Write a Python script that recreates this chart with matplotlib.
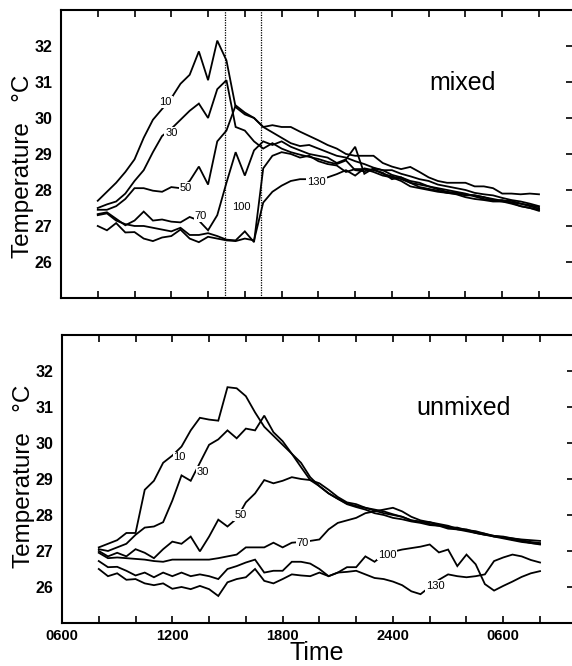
import numpy as np
import matplotlib
matplotlib.use("Agg")
import matplotlib.pyplot as plt

plt.rcParams['font.family'] = ['Liberation Sans', 'DejaVu Sans']

# half-hourly samples, 0800 day 1 to 0800 day 2 (hours since midnight)
hours = np.arange(8, 32.01, 0.5)

depths = ['10', '30', '50', '70', '100', '130']

mixed_10 = [27.70, 27.95, 28.20, 28.50, 28.85, 29.45, 29.95, 30.25, 30.55, 30.95,
            31.20, 31.85, 31.05, 32.15, 31.60, 30.30, 30.10, 30.00, 29.75, 29.80,
            29.75, 29.75, 29.62, 29.50, 29.38, 29.25, 29.15, 29.00, 28.95, 28.95,
            28.95, 28.75, 28.65, 28.58, 28.64, 28.50, 28.35, 28.25, 28.20, 28.20,
            28.20, 28.10, 28.10, 28.05, 27.90, 27.90, 27.88, 27.90, 27.88]
mixed_30 = [27.50, 27.60, 27.68, 27.90, 28.25, 28.55, 29.05, 29.50, 29.70, 29.95,
            30.20, 30.40, 30.00, 30.80, 31.05, 29.75, 29.65, 29.35, 29.15, 29.30,
            29.15, 29.05, 28.98, 28.92, 28.86, 28.78, 28.72, 28.82, 28.55, 28.52,
            28.58, 28.45, 28.38, 28.30, 28.20, 28.08, 28.03, 27.98, 27.92, 27.90,
            27.85, 27.85, 27.80, 27.72, 27.68, 27.66, 27.62, 27.55, 27.48]
mixed_50 = [27.45, 27.45, 27.55, 27.75, 28.05, 28.05, 27.98, 27.95, 28.08, 28.05,
            28.25, 28.65, 28.15, 29.35, 29.65, 30.35, 30.15, 30.00, 29.75, 29.60,
            29.45, 29.30, 29.22, 29.25, 29.15, 29.05, 28.95, 28.90, 28.80, 28.72,
            28.62, 28.55, 28.55, 28.45, 28.38, 28.30, 28.25, 28.15, 28.10, 28.05,
            28.00, 27.92, 27.88, 27.85, 27.78, 27.72, 27.68, 27.62, 27.55]
mixed_70 = [27.33, 27.38, 27.20, 27.02, 27.15, 27.40, 27.15, 27.18, 27.12, 27.10,
            27.25, 27.15, 26.88, 27.30, 28.20, 29.05, 28.40, 29.10, 29.35, 29.25,
            29.35, 29.20, 29.10, 29.00, 28.95, 28.90, 28.75, 28.85, 29.20, 28.45,
            28.60, 28.55, 28.42, 28.35, 28.25, 28.20, 28.10, 28.05, 28.00, 27.95,
            27.90, 27.82, 27.75, 27.70, 27.72, 27.65, 27.55, 27.50, 27.45]
mixed_100 = [27.30, 27.35, 27.15, 27.05, 27.00, 27.00, 26.95, 26.90, 26.85, 26.95,
             26.75, 26.75, 26.80, 26.72, 26.62, 26.60, 26.85, 26.55, 28.60, 28.95,
             29.05, 29.00, 28.90, 28.95, 28.80, 28.72, 28.68, 28.50, 28.58, 28.58,
             28.50, 28.40, 28.35, 28.25, 28.10, 28.05, 28.00, 27.95, 27.92, 27.88,
             27.80, 27.75, 27.72, 27.68, 27.68, 27.62, 27.55, 27.50, 27.42]
mixed_130 = [27.00, 26.88, 27.08, 26.82, 26.83, 26.65, 26.58, 26.68, 26.72, 26.90,
             26.65, 26.55, 26.70, 26.65, 26.60, 26.58, 26.65, 26.60, 27.65, 27.95,
             28.12, 28.25, 28.30, 28.30, 28.30, 28.35, 28.44, 28.55, 28.40, 28.60,
             28.55, 28.48, 28.30, 28.35, 28.20, 28.15, 28.10, 28.02, 27.95, 27.92,
             27.88, 27.85, 27.80, 27.75, 27.70, 27.70, 27.62, 27.58, 27.52]

unmixed_10 = [27.10, 27.20, 27.30, 27.50, 27.50, 28.70, 28.95, 29.45, 29.65, 29.90,
              30.35, 30.70, 30.65, 30.62, 31.55, 31.52, 31.30, 30.85, 30.45, 30.20,
              29.95, 29.70, 29.45, 29.05, 28.80, 28.60, 28.45, 28.32, 28.25, 28.20,
              28.12, 28.05, 28.00, 27.95, 27.85, 27.80, 27.80, 27.72, 27.65, 27.65,
              27.58, 27.55, 27.48, 27.40, 27.38, 27.35, 27.32, 27.30, 27.28]
unmixed_30 = [27.05, 27.00, 27.10, 27.20, 27.45, 27.65, 27.68, 27.80, 28.40, 29.10,
              28.95, 29.45, 29.95, 30.10, 30.35, 30.13, 30.40, 30.35, 30.76, 30.30,
              30.05, 29.70, 29.33, 28.97, 28.80, 28.60, 28.45, 28.30, 28.22, 28.15,
              28.05, 28.00, 27.92, 27.88, 27.82, 27.78, 27.72, 27.70, 27.62, 27.60,
              27.55, 27.50, 27.45, 27.40, 27.35, 27.30, 27.25, 27.22, 27.20]
unmixed_50 = [27.00, 26.85, 26.95, 26.85, 27.05, 26.95, 26.80, 27.05, 27.26, 27.20,
              27.40, 26.99, 27.40, 27.87, 27.68, 27.90, 28.35, 28.60, 28.97, 28.88,
              28.95, 29.05, 29.00, 28.97, 28.88, 28.70, 28.50, 28.35, 28.30, 28.20,
              28.15, 28.10, 28.02, 27.95, 27.85, 27.82, 27.75, 27.70, 27.68, 27.60,
              27.58, 27.50, 27.45, 27.42, 27.38, 27.32, 27.28, 27.22, 27.18]
unmixed_70 = [26.95, 26.80, 26.82, 26.80, 26.78, 26.76, 26.72, 26.70, 26.76, 26.76,
              26.76, 26.76, 26.76, 26.80, 26.85, 26.90, 27.10, 27.10, 27.10, 27.23,
              27.10, 27.23, 27.25, 27.28, 27.32, 27.60, 27.78, 27.85, 27.92, 28.05,
              28.10, 28.15, 28.20, 28.10, 27.95, 27.85, 27.80, 27.75, 27.70, 27.62,
              27.60, 27.52, 27.48, 27.42, 27.40, 27.35, 27.30, 27.25, 27.22]
unmixed_100 = [26.72, 26.55, 26.56, 26.45, 26.32, 26.40, 26.27, 26.40, 26.30, 26.40,
               26.30, 26.35, 26.30, 26.22, 26.50, 26.58, 26.68, 26.76, 26.40, 26.45,
               26.45, 26.70, 26.70, 26.65, 26.50, 26.30, 26.40, 26.55, 26.55, 26.85,
               26.70, 26.90, 26.98, 27.04, 27.08, 27.12, 27.18, 26.96, 27.04, 26.58,
               26.90, 26.63, 26.08, 25.90, 26.03, 26.15, 26.28, 26.38, 26.44]
unmixed_130 = [26.50, 26.30, 26.38, 26.20, 26.22, 26.10, 26.05, 26.10, 25.95, 26.00,
               25.94, 26.03, 25.94, 25.75, 26.13, 26.22, 26.27, 26.50, 26.17, 26.10,
               26.22, 26.35, 26.32, 26.30, 26.40, 26.30, 26.40, 26.42, 26.45, 26.35,
               26.25, 26.22, 26.15, 26.05, 25.88, 25.80, 26.00, 26.20, 26.35, 26.30,
               26.27, 26.30, 26.35, 26.72, 26.82, 26.90, 26.85, 26.75, 26.68]

# depth label positions (hour, temperature)
mixed_lab_h = [11.7, 12.0, 12.8, 13.6, 15.8, 19.9]
mixed_lab_t = [30.45, 29.58, 28.05, 27.28, 27.52, 28.22]
unmixed_lab_h = [12.4, 13.66, 15.7, 19.1, 23.7, 26.3]
unmixed_lab_t = [29.6, 29.19, 28.0, 27.23, 26.9, 26.02]

mixing_times = [14.9, 16.9]

xticks_major = [6, 12, 18, 24, 30]
xtick_labels = ['0600', '1200', '1800', '2400', '0600']
xticks_minor = [8, 10, 14, 16, 20, 22, 26, 28, 32, 34]
yticks = [26, 27, 28, 29, 30, 31, 32]

panels = [
    ('mixed', [mixed_10, mixed_30, mixed_50, mixed_70, mixed_100, mixed_130],
     mixed_lab_h, mixed_lab_t),
    ('unmixed', [unmixed_10, unmixed_30, unmixed_50, unmixed_70, unmixed_100, unmixed_130],
     unmixed_lab_h, unmixed_lab_t),
]

fig = plt.figure(figsize=(5.72, 6.66), dpi=100)
ax_top = fig.add_axes([0.1066, 0.5526, 0.90, 0.4324])
ax_bot = fig.add_axes([0.1084, 0.0646, 0.90, 0.4324])

for ax, (title, series, lab_h, lab_t) in zip([ax_top, ax_bot], panels):
    for s in series:
        ax.plot(hours, s, color='black', lw=1.3, solid_joinstyle='miter')
    for name, h, t in zip(depths, lab_h, lab_t):
        ax.text(h, t, name, fontsize=8, ha='center', va='center', zorder=5,
                bbox=dict(facecolor='white', edgecolor='none', pad=0.6))
    ax.set_xlim(6, 34)
    ax.set_ylim(25, 33)
    ax.set_xticks(xticks_major)
    ax.set_xticks(xticks_minor, minor=True)
    ax.set_yticks(yticks)
    ax.tick_params(axis='x', which='both', direction='in', top=True, bottom=True,
                   length=5, width=1.2, labelsize=10.5, pad=4)
    ax.tick_params(axis='y', direction='in', left=False, right=True,
                   length=7, width=1.2, labelsize=11.5, pad=6)
    for lab in ax.get_yticklabels():
        lab.set_fontweight('bold')
    for sp in ax.spines.values():
        sp.set_linewidth(1.5)
    ax.set_ylabel('Temperature   \u00b0C', fontsize=17.5)
    ax.text(0.78, 0.747, title, transform=ax.transAxes, fontsize=18,
            ha='center', va='center')

ax_top.yaxis.set_label_coords(-0.052, 0.458)
ax_bot.yaxis.set_label_coords(-0.052, 0.51)

for mt in mixing_times:
    ax_top.axvline(mt, color='black', lw=0.9, ls=(0, (1, 1)))

ax_top.set_xticklabels([])
ax_bot.set_xticklabels(xtick_labels, fontweight='bold')
ax_bot.set_xlabel('Time', fontsize=18)
ax_bot.xaxis.set_label_coords(0.495, -0.062)

fig.savefig('out.png', dpi=100)
